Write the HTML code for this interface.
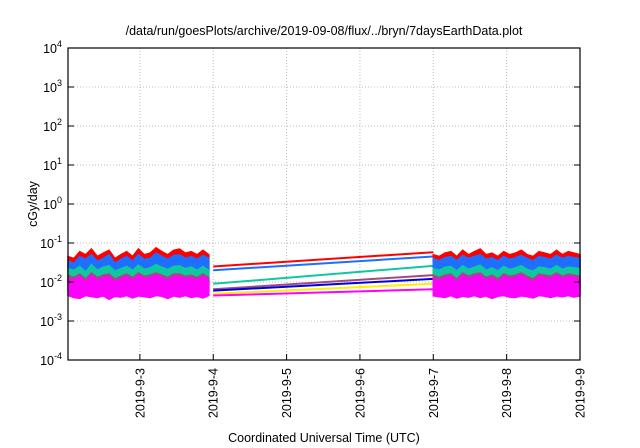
<!DOCTYPE html>
<html><head><meta charset="utf-8"><style>
body{margin:0;background:#fff}
svg{display:block;font-family:"Liberation Sans",sans-serif}
</style></head><body>
<svg id="chart" width="640" height="448" viewBox="0 0 640 448">
<text x="324" y="35" font-size="12.5" text-anchor="middle">/data/run/goesPlots/archive/2019-09-08/flux/../bryn/7daysEarthData.plot</text>
<text transform="translate(37,204) rotate(-90)" font-size="12.5" text-anchor="middle">cGy/day</text>
<text x="324" y="442" font-size="12.5" text-anchor="middle">Coordinated Universal Time (UTC)</text>
<g id="grid"></g><g id="data"></g><g id="axes"></g>
</svg>
<script>
const yExps=[-4,-3,-2,-1,0,1,2,3,4];
const xTickDays=[3,4,5,6,7,8,9];
const xTickLabels=["2019-9-3","2019-9-4","2019-9-5","2019-9-6","2019-9-7","2019-9-8","2019-9-9"];
const seg1Start=2.02, seg2Start=7.0, step=0.08;
const redS1=[0.045,0.04,0.06,0.05,0.07,0.045,0.055,0.065,0.04,0.05,0.06,0.045,0.07,0.05,0.055,0.075,0.06,0.05,0.065,0.07,0.055,0.06,0.05,0.065,0.05];
const blueS1=[0.035,0.03,0.045,0.038,0.05,0.034,0.04,0.05,0.03,0.038,0.045,0.034,0.05,0.038,0.04,0.055,0.045,0.038,0.048,0.05,0.04,0.045,0.038,0.048,0.04];
const greenS1=[0.022,0.02,0.025,0.018,0.028,0.02,0.024,0.026,0.019,0.022,0.025,0.02,0.027,0.021,0.023,0.028,0.024,0.021,0.025,0.026,0.022,0.024,0.02,0.025,0.02];
const purpleS1=[0.015,0.013,0.016,0.012,0.017,0.013,0.015,0.016,0.012,0.014,0.016,0.013,0.017,0.014,0.015,0.017,0.015,0.013,0.016,0.016,0.014,0.015,0.013,0.016,0.013];
const magHiS1=[0.012,0.011,0.014,0.01,0.015,0.011,0.013,0.014,0.01,0.012,0.014,0.011,0.015,0.012,0.013,0.015,0.013,0.011,0.014,0.014,0.012,0.013,0.011,0.014,0.011];
const magLoS1=[0.0045,0.004,0.0038,0.0045,0.0042,0.004,0.0044,0.0036,0.0043,0.0041,0.0045,0.0039,0.0044,0.0042,0.004,0.0045,0.0043,0.0038,0.0044,0.0041,0.0045,0.004,0.0043,0.0039,0.0045];
const redS2=[0.05,0.045,0.055,0.06,0.045,0.065,0.05,0.06,0.07,0.05,0.055,0.045,0.06,0.05,0.055,0.065,0.05,0.045,0.06,0.055,0.05,0.065,0.05,0.06,0.055,0.05];
const blueS2=[0.04,0.035,0.042,0.045,0.035,0.048,0.04,0.045,0.05,0.038,0.042,0.035,0.045,0.038,0.042,0.048,0.04,0.035,0.045,0.042,0.038,0.048,0.04,0.045,0.042,0.04];
const greenS2=[0.022,0.02,0.024,0.025,0.019,0.026,0.021,0.024,0.027,0.02,0.023,0.019,0.025,0.021,0.023,0.026,0.021,0.019,0.024,0.023,0.021,0.026,0.021,0.024,0.023,0.022];
const purpleS2=[0.015,0.013,0.015,0.016,0.012,0.017,0.014,0.016,0.017,0.013,0.015,0.012,0.016,0.014,0.015,0.017,0.014,0.012,0.016,0.015,0.014,0.017,0.014,0.016,0.015,0.014];
const magHiS2=[0.012,0.011,0.013,0.014,0.01,0.015,0.012,0.014,0.015,0.011,0.013,0.01,0.014,0.012,0.013,0.015,0.012,0.01,0.014,0.013,0.012,0.015,0.012,0.014,0.013,0.012];
const magLoS2=[0.0044,0.0042,0.004,0.0045,0.0039,0.0043,0.0041,0.0045,0.004,0.0044,0.0038,0.0043,0.0045,0.0041,0.004,0.0044,0.0042,0.0039,0.0045,0.0043,0.004,0.0044,0.0042,0.0045,0.0041,0.0044];
const gapNames=["red","blue","green","purple","darkblue","yellow","magenta"];
const gapStart=[0.025,0.02,0.009,0.0065,0.006,0.005,0.0045];
const gapEnd=[0.058,0.045,0.026,0.015,0.012,0.009,0.0065];
const gapColors=["#ff0000","#1e6fff","#10c8a0","#a04c80","#0000e0","#ffee00","#ff00ff"];

const L=68,R=580,T=48,B=360,xMin=2.02,xMax=9.0;
const sx=d=>L+(d-xMin)/(xMax-xMin)*(R-L);
const sy=v=>T+(4-Math.log10(v))/8*(B-T);
const NS="http://www.w3.org/2000/svg";
function mk(tag,attrs,parent){const e=document.createElementNS(NS,tag);for(const k in attrs)e.setAttribute(k,attrs[k]);parent.appendChild(e);return e;}
const grid=document.getElementById('grid'),data=document.getElementById('data'),axes=document.getElementById('axes');
yExps.forEach(p=>{const y=sy(Math.pow(10,p));
 if(p>-4&&p<4){const g=mk('line',{x1:L,x2:R,y1:y,y2:y,stroke:'#bbb','stroke-dasharray':'1,2'},grid);}
 const t1=mk('line',{x1:L,x2:L+6,y1:y,y2:y,stroke:'#000'},axes);
 const t2=mk('line',{x1:R-6,x2:R,y1:y,y2:y,stroke:'#000'},axes);
 const tx=mk('text',{x:L-6,y:y+5,'font-size':'12.5','text-anchor':'end'},axes);
 
 
 tx.textContent='10';const s=mk('tspan',{dy:-6,'font-size':'9'},tx);s.textContent=String(p);
});
xTickDays.forEach((d,i)=>{const x=sx(d);
 if(d<9){const g=mk('line',{x1:x,x2:x,y1:T,y2:B,stroke:'#bbb','stroke-dasharray':'1,2'},grid);}
 const t=mk('line',{x1:x,x2:x,y1:B-6,y2:B,stroke:'#000'},axes);
 const tx=mk('text',{transform:`translate(${x+4.5},${B+8}) rotate(-90)`,'font-size':'12.5','text-anchor':'end'},axes);
 
 
 tx.textContent=xTickLabels[i];
});
const fr=mk('rect',{x:L,y:T,width:R-L,height:B-T,fill:'none',stroke:'#000','stroke-width':1.2},axes);

function band(start,hi,lo,color,name){
 let up=hi.map((v,i)=>`${sx(Math.min(start+i*step,start<5?4:9))},${sy(v)}`);
 let dn=hi.map((v,i)=>{const l=Array.isArray(lo)?lo[i]:lo;return `${sx(Math.min(start+i*step,start<5?4:9))},${sy(l)}`;}).reverse();
 const p=mk('polygon',{points:up.concat(dn).join(' '),fill:color,stroke:color,'stroke-width':1.5,'stroke-linejoin':'miter'},data);
 
}
gapNames.forEach((n,i)=>{const l=mk('line',{x1:sx(4),y1:sy(gapStart[i]),x2:sx(7),y2:sy(gapEnd[i]),stroke:gapColors[i],'stroke-width':2},data);
 });
[[seg1Start,redS1,blueS1,greenS1,purpleS1,magHiS1,magLoS1],[seg2Start,redS2,blueS2,greenS2,purpleS2,magHiS2,magLoS2]].forEach(s=>{
 band(s[0],s[1],0.02,'#ff0000','red-series');
 band(s[0],s[2],0.014,'#1e6fff','blue-series');
 band(s[0],s[3],0.01,'#10c8a0','green-series');
 band(s[0],s[4],0.006,'#a04c80','purple-series');
 band(s[0],s[5],s[6],'#ff00ff','magenta-series');
});
</script>
</body></html>
